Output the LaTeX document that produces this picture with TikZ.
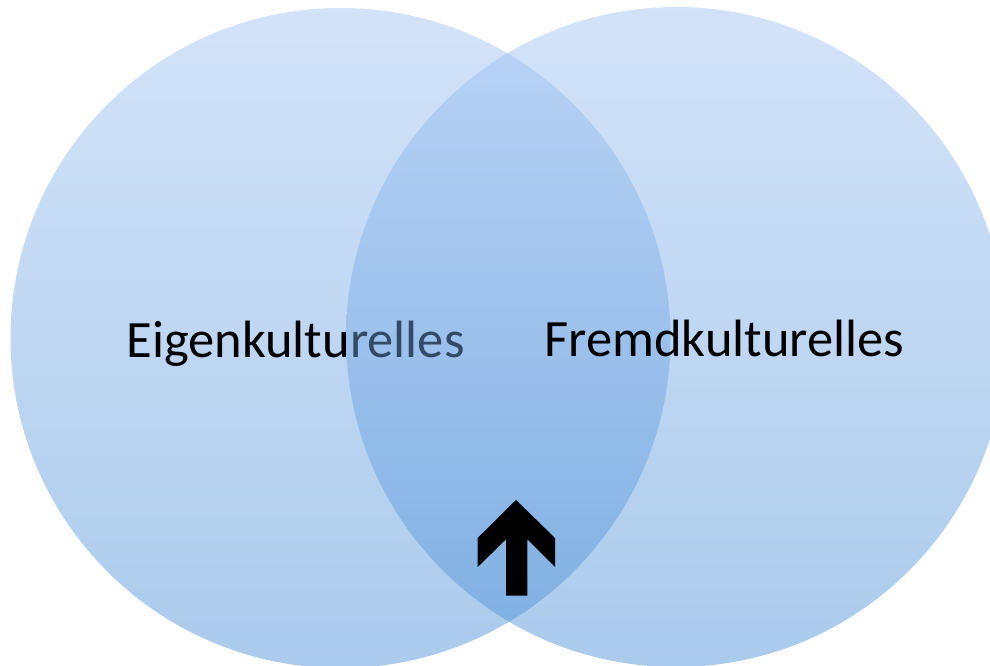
\documentclass[tikz,border=0pt]{standalone}
\usepackage{fontspec}
\setmainfont{Carlito}
\definecolor{cTop}{RGB}{157,193,242}
\definecolor{cBot}{RGB}{68,139,213}
\tikzset{
  venn/.style={top color=cTop, bottom color=cBot, opacity=0.45},
  label/.style={font=\fontsize{52.5}{56}\selectfont, anchor=base, inner sep=0pt, text=black},
  bigarrow/.style={fill=black, draw=none}
}
\begin{document}
\begin{tikzpicture}[x=1pt,y=-1pt]
\useasboundingbox (0,0) rectangle (990,666);
\clip (0,0) rectangle (990,666);
\shade[venn] (340.5,338) circle[radius=330];
\node[label] (eigen) at (295.5,357) {Eigenkulturelles};
\shade[venn] (676,337) circle[radius=330];
\node[label] (fremd) at (724.5,356.5) {Fremdkulturelles};
\fill[bigarrow] (516,500) -- (555,538) -- (555,567) -- (527.3,539.3) -- (527.3,595.7)
  -- (506,595.7) -- (506,539.3) -- (477.7,567) -- (477.7,538) -- cycle;
\end{tikzpicture}
\end{document}
